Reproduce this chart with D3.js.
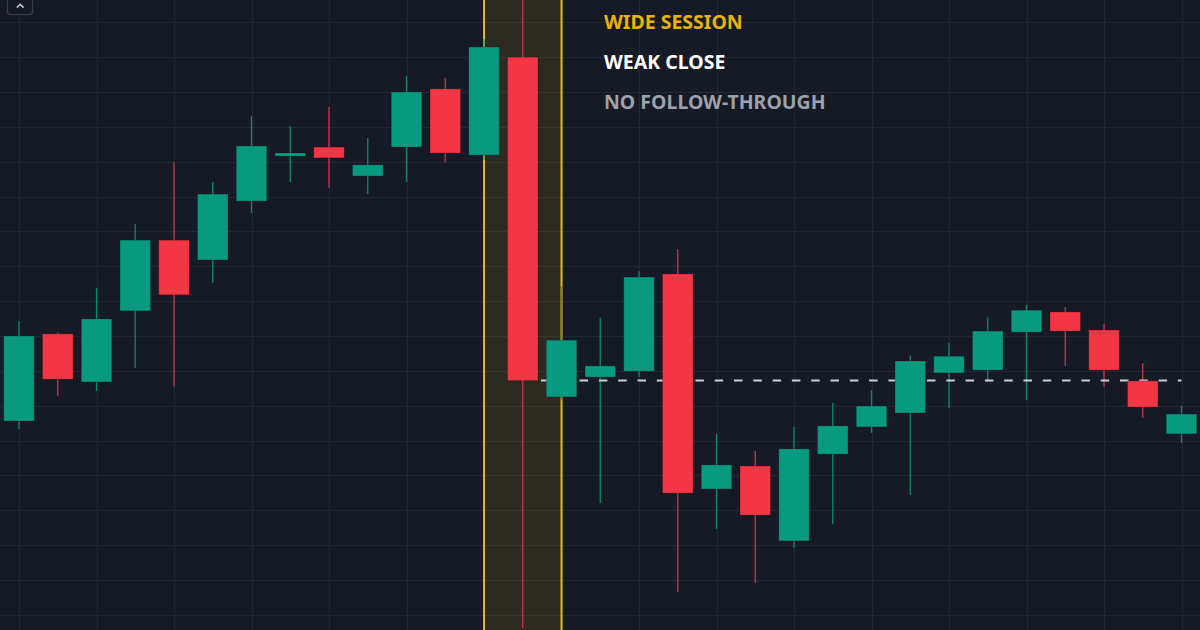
<!DOCTYPE html>
<html>
<head>
<meta charset="utf-8">
<script src="https://cdn.jsdelivr.net/npm/d3@7/dist/d3.min.js"></script>
<style>
  html, body { margin: 0; padding: 0; background: #161a25; }
  svg { display: block; }
</style>
</head>
<body>
<svg id="chart" width="1200" height="630"></svg>
<script>
// ---- data ----
const sessions = d3.range(31);
const opens  = [106.56,109.06,107.68,109.72,111.75,111.18,112.87,114.16,114.42,113.59,114.42,116.09,114.19,117.00,107.25,107.82,107.99,110.78,104.61,105.27,103.12,105.61,106.39,106.79,107.94,108.02,109.11,109.69,109.17,107.71,106.19];
const highs  = [109.43,109.11,110.38,112.21,113.99,113.42,115.31,115.02,115.57,114.68,116.46,116.40,117.52,118.78,110.43,109.52,110.86,111.49,106.19,105.70,106.39,107.08,107.45,108.45,108.80,109.54,109.89,109.83,109.34,108.22,106.99];
const lows   = [106.33,107.28,107.42,108.08,107.56,110.52,112.53,113.42,113.25,113.07,113.42,113.99,114.05,100.62,107.16,104.21,107.82,101.65,103.46,101.91,102.92,103.60,106.22,104.44,106.93,107.68,107.16,108.14,107.54,106.65,105.93];
const closes = [109.00,107.76,109.49,111.75,110.18,113.07,114.45,114.25,114.11,113.91,116.00,114.25,117.29,107.72,108.88,108.14,110.69,104.49,105.30,103.86,105.76,106.42,106.99,108.28,108.42,109.14,109.74,109.14,108.02,106.96,106.76];
const gridPrices = d3.range(101, 119);
const gridSessions = d3.range(0, 31, 2);
const highlightSession = 13;
const levelSession = 13;
const labels = ["WIDE SESSION", "WEAK CLOSE", "NO FOLLOW-THROUGH"];

// ---- layout ----
const W = 1200, H = 630;
const svg = d3.select("#chart");
const x = d3.scaleLinear().domain([0, 30]).range([19, 1181.5]);
const y = d3.scaleLinear().domain([100.563, 118.640]).range([H, 0]);
const bodyW = 30.5;

const UP = "#089981", DOWN = "#f23645";
const candles = sessions.map(i => ({i, o: opens[i], h: highs[i], l: lows[i], c: closes[i]}));

// background
svg.append("rect").attr("width", W).attr("height", H).attr("fill", "#161a25");

// grid
const grid = svg.append("g").attr("stroke", "#232733").attr("stroke-width", 1);
grid.selectAll("line.h").data(gridPrices).join("line")
  .attr("x1", 0).attr("x2", W)
  .attr("y1", d => Math.round(y(d)) + 0.5).attr("y2", d => Math.round(y(d)) + 0.5);
grid.selectAll("line.v").data(gridSessions).join("line")
  .attr("y1", 0).attr("y2", H)
  .attr("x1", d => Math.round(x(d)) + 0.5).attr("x2", d => Math.round(x(d)) + 0.5);

// highlight band
const bx0 = x(highlightSession - 1), bx1 = x(highlightSession + 1);
svg.append("rect").attr("x", bx0).attr("y", 0).attr("width", bx1 - bx0).attr("height", H)
  .attr("fill", "#f0b90b").attr("fill-opacity", 0.11);
svg.append("g").selectAll("line").data([bx0, bx1]).join("line")
  .attr("x1", d => d).attr("x2", d => d).attr("y1", 0).attr("y2", H)
  .attr("stroke", "#e9b416").attr("stroke-width", 2);

// wicks
svg.append("g").selectAll("line").data(candles).join("line")
  .attr("x1", d => x(d.i)).attr("x2", d => x(d.i))
  .attr("y1", d => y(d.h)).attr("y2", d => y(d.l))
  .attr("stroke", d => d.c >= d.o ? UP : DOWN)
  .attr("stroke-opacity", 0.85)
  .attr("stroke-width", 1.3);

// dashed level
const lvl = closes[levelSession];
svg.append("line")
  .attr("x1", x(levelSession) + bodyW / 2 + 3).attr("x2", x(30))
  .attr("y1", y(lvl)).attr("y2", y(lvl))
  .attr("stroke", "#c9ced8").attr("stroke-width", 2)
  .attr("stroke-dasharray", "8.5 10.8");

// bodies
svg.append("g").selectAll("rect").data(candles).join("rect")
  .attr("x", d => x(d.i) - bodyW / 2)
  .attr("width", bodyW)
  .attr("y", d => y(Math.max(d.o, d.c)))
  .attr("height", d => Math.max(1.5, Math.abs(y(d.o) - y(d.c))))
  .attr("fill", d => d.c >= d.o ? UP : DOWN)
  .attr("stroke", "rgba(0,0,0,0.22)").attr("stroke-width", 1);

// annotations
const colors = ["#eab308", "#ffffff", "#9ca1ac"];
svg.append("g").selectAll("text").data(labels).join("text")
  .attr("x", 604).attr("y", (d, k) => 29 + k * 40)
  .attr("fill", (d, k) => colors[k])
  .attr("font-family", "'Noto Sans', 'Open Sans', sans-serif")
  .attr("font-weight", 700).attr("font-size", 19.5)
  .text(d => d);

// top-left collapse button
const btn = svg.append("g");
btn.append("rect").attr("x", 7.5).attr("y", -6).attr("width", 25).attr("height", 20.5).attr("rx", 3)
  .attr("fill", "#161a25").attr("stroke", "#3b3f4b").attr("stroke-width", 1.2);
btn.append("path").attr("d", "M16.8,7.6 L20.2,4.4 L23.6,7.6")
  .attr("fill", "none").attr("stroke", "#c3c6ce").attr("stroke-width", 1.5);
</script>
</body>
</html>
